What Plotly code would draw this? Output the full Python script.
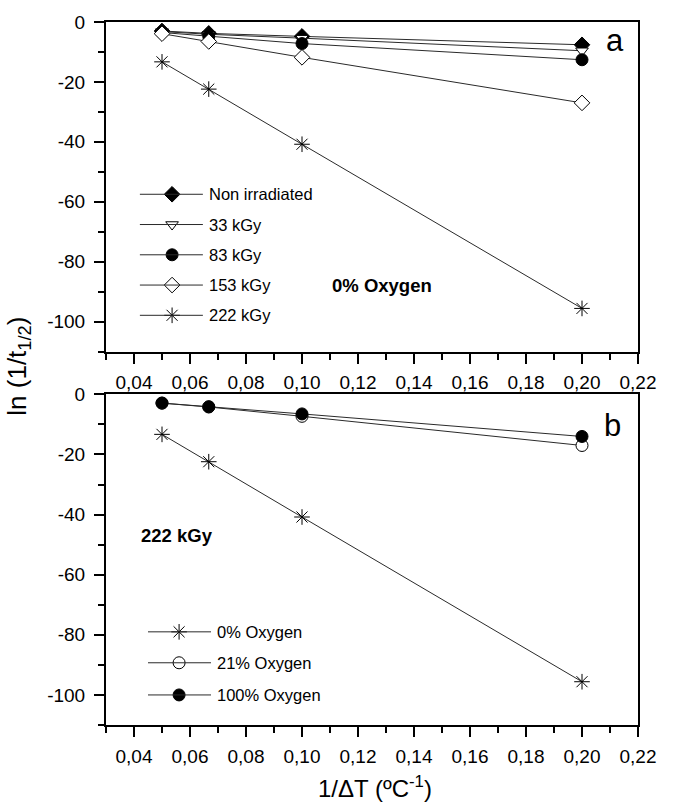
import plotly.graph_objects as go

# ---- data -----------------------------------------------------------------
inv_dT = [0.05, 0.0667, 0.10, 0.20]          # 1/ΔT (°C^-1)

# panel a: 0 % oxygen, different doses
dose_labels = ["Non irradiated", "33 kGy", "83 kGy", "153 kGy", "222 kGy"]
non_irradiated = [-3.0, -3.8, -4.8, -7.6]
dose_33 = [-3.2, -4.1, -5.4, -9.6]
dose_83 = [-3.5, -4.8, -7.2, -12.6]
dose_153 = [-3.9, -6.5, -11.8, -27.0]
dose_222 = [-13.3, -22.4, -40.8, -95.6]

# panel b: 222 kGy, different oxygen levels
oxygen_labels = ["0% Oxygen", "21% Oxygen", "100% Oxygen"]
oxygen_0 = [-13.3, -22.4, -40.8, -95.6]
oxygen_21 = [-2.9, -4.2, -7.3, -17.0]
oxygen_100 = [-2.9, -4.1, -6.5, -14.0]

x_tick_vals = [0.04, 0.06, 0.08, 0.10, 0.12, 0.14, 0.16, 0.18, 0.20, 0.22]
x_tick_text = ["0,04", "0,06", "0,08", "0,10", "0,12", "0,14", "0,16", "0,18", "0,20", "0,22"]
y_tick_vals = [0, -20, -40, -60, -80, -100]
y_tick_text = ["0", "-20", "-40", "-60", "-80", "-100"]

# ---- styles ---------------------------------------------------------------
FONT = "Liberation Sans, Arial, sans-serif"
LINE = dict(color="#2a2a2a", width=1)

def mk(symbol, fill, size):
    return dict(symbol=symbol, size=size, color=fill,
                line=dict(color="black", width=1))

styles_a = [
    mk("diamond", "black", 12),
    mk("triangle-down", "white", 11),
    mk("circle", "black", 12),
    mk("diamond", "white", 12),
    mk("asterisk", "black", 13),
]
styles_b = [
    mk("asterisk", "black", 13),
    mk("circle", "white", 12),
    mk("circle", "black", 12),
]

fig = go.Figure()

series_a = [non_irradiated, dose_33, dose_83, dose_153, dose_222]
for name, ys, st in zip(dose_labels, series_a, styles_a):
    fig.add_trace(go.Scatter(x=inv_dT, y=ys, name=name, mode="lines+markers",
                             line=LINE, marker=st, xaxis="x", yaxis="y",
                             showlegend=False))

series_b = [oxygen_0, oxygen_21, oxygen_100]
for name, ys, st in zip(oxygen_labels, series_b, styles_b):
    fig.add_trace(go.Scatter(x=inv_dT, y=ys, name=name, mode="lines+markers",
                             line=LINE, marker=st, xaxis="x2", yaxis="y2",
                             showlegend=False))

# ---- hand-drawn legend keys (line + marker + label) -----------------------
shapes = []
annotations = []

def legend_block(labels, styles, xs, ys_rows, xref, yref, font_size):
    x0, xm, x1, xt = xs
    for lab, st, yy in zip(labels, styles, ys_rows):
        shapes.append(dict(type="line", xref=xref, yref=yref, x0=x0, x1=x1,
                           y0=yy, y1=yy, line=LINE))
        fig.add_trace(go.Scatter(x=[xm], y=[yy], mode="markers", marker=st,
                                 xaxis=xref, yaxis=yref, showlegend=False,
                                 hoverinfo="skip"))
        annotations.append(dict(x=xt, y=yy, xref=xref, yref=yref, text=lab,
                                showarrow=False, xanchor="left", yanchor="middle",
                                font=dict(family=FONT, size=font_size, color="black")))

legend_block(dose_labels, styles_a, (0.0421, 0.0536, 0.0646, 0.0662),
             [-57.5, -67.6, -77.7, -87.8, -97.9], "x", "y", 16.5)
legend_block(oxygen_labels, styles_b, (0.0450, 0.0561, 0.0675, 0.0691),
             [-79.0, -89.3, -100.0], "x2", "y2", 16.5)

# ---- panel notes ----------------------------------------------------------
annotations += [
    dict(x=0.110, y=-88, xref="x", yref="y", text="<b>0% Oxygen</b>",
         showarrow=False, xanchor="left", yanchor="middle",
         font=dict(family=FONT, size=18.5, color="black")),
    dict(x=0.0418, y=-47, xref="x2", yref="y2", text="<b>222 kGy</b>",
         showarrow=False, xanchor="left", yanchor="middle",
         font=dict(family=FONT, size=18.5, color="black")),
    dict(x=0.957, y=0.943, xref="x domain", yref="y domain", text="a",
         showarrow=False, xanchor="center", yanchor="middle",
         font=dict(family=FONT, size=31, color="black")),
    dict(x=0.953, y=0.907, xref="x2 domain", yref="y2 domain", text="b",
         showarrow=False, xanchor="center", yanchor="middle",
         font=dict(family=FONT, size=31, color="black")),
    # axis titles
    dict(x=0.5056, y=-0.088, xref="paper", yref="paper",
         text="1/ΔT (ºC<sup>-1</sup>)", showarrow=False,
         xanchor="center", yanchor="middle",
         font=dict(family=FONT, size=24, color="black")),
    dict(x=-0.165, y=0.51, xref="paper", yref="paper",
         text="ln (1/t<sub>1/2</sub>)", showarrow=False, textangle=-90,
         xanchor="center", yanchor="middle",
         font=dict(family=FONT, size=26, color="black")),
]

# ---- axes -----------------------------------------------------------------
def x_axis(anchor):
    return dict(anchor=anchor, range=[0.03, 0.22], tickmode="array",
                tickvals=x_tick_vals, ticktext=x_tick_text,
                showline=True, linecolor="black", linewidth=2, mirror=True,
                ticks="outside", ticklen=10, tickwidth=2, tickcolor="black",
                ticklabelstandoff=3,
                minor=dict(tickmode="array",
                           tickvals=[v - 0.01 for v in x_tick_vals],
                           ticks="outside", ticklen=6, tickwidth=2,
                           tickcolor="black"),
                showgrid=False, zeroline=False,
                tickfont=dict(family=FONT, size=19, color="black"))

def y_axis(anchor, domain):
    return dict(anchor=anchor, domain=domain, range=[-110, 0], tickmode="array",
                tickvals=y_tick_vals, ticktext=y_tick_text,
                showline=True, linecolor="black", linewidth=2, mirror=True,
                ticks="outside", ticklen=10, tickwidth=2, tickcolor="black",
                ticklabelstandoff=5,
                minor=dict(tickmode="array",
                           tickvals=[v - 10 for v in y_tick_vals],
                           ticks="outside", ticklen=6, tickwidth=2,
                           tickcolor="black"),
                showgrid=False, zeroline=False,
                tickfont=dict(family=FONT, size=19, color="black"))

fig.update_layout(
    width=673, height=805,
    margin=dict(l=106, r=35, t=19, b=80),
    paper_bgcolor="white", plot_bgcolor="white",
    xaxis=x_axis("y"),
    yaxis=y_axis("x", [0.5312, 1.0]),
    xaxis2=x_axis("y2"),
    yaxis2=y_axis("x2", [0.0, 0.4703]),
    shapes=shapes,
    annotations=annotations,
    showlegend=False,
    font=dict(family=FONT, color="black"),
)

fig.write_html("out.html")
